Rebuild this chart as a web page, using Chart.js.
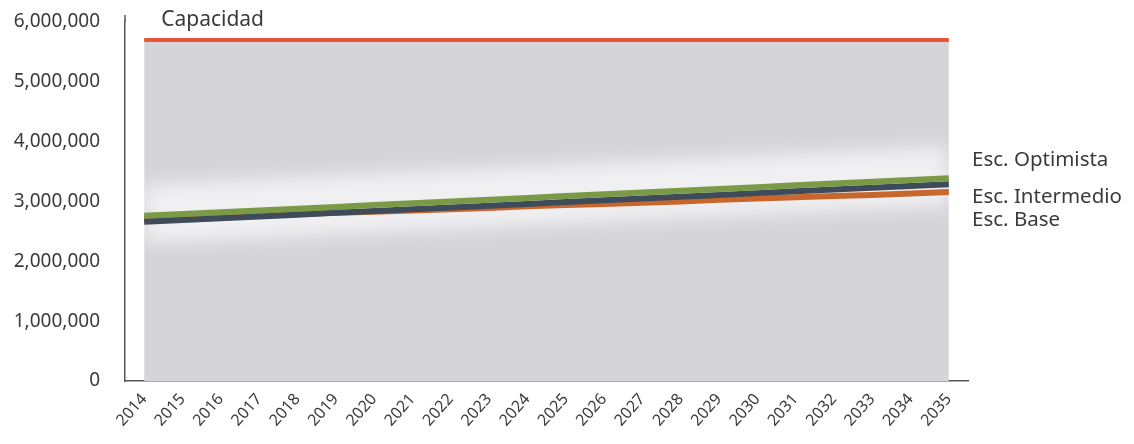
<!DOCTYPE html>
<html>
<head>
<meta charset="utf-8">
<script src="https://cdn.jsdelivr.net/npm/chart.js@4.4.1/dist/chart.umd.min.js"></script>
<style>
  html, body { margin: 0; padding: 0; background: #ffffff; }
  #wrap { width: 1134px; height: 444px; position: relative; }
</style>
</head>
<body>
<div id="wrap"><canvas id="c" width="1134" height="444"></canvas></div>
<script>
// Years on the horizontal axis
const years = ['2014','2015','2016','2017','2018','2019','2020','2021','2022','2023','2024',
               '2025','2026','2027','2028','2029','2030','2031','2032','2033','2034','2035'];

// Demand scenarios
const escOptimista = [2760000, 2790000, 2820000, 2850000, 2880000, 2910000, 2940000, 2970000,
                      3000000, 3030000, 3060000, 3090000, 3120000, 3150000, 3180000, 3210000,
                      3240000, 3270000, 3300000, 3330000, 3360000, 3390000];
const escIntermedio = [2660000, 2690000, 2720000, 2750000, 2780000, 2810000, 2840000, 2870000,
                       2900000, 2930000, 2960000, 2990000, 3020000, 3050000, 3080000, 3110000,
                       3140000, 3170000, 3200000, 3230000, 3260000, 3290000];
const escBase = [2710000, 2730000, 2750000, 2770000, 2790000, 2810000, 2830000, 2850000,
                 2870000, 2890000, 2920000, 2940000, 2960000, 2980000, 3000000, 3030000,
                 3050000, 3070000, 3090000, 3110000, 3135000, 3160000];

// Installed capacity
const capacidad = [5700000, 5700000, 5700000, 5700000, 5700000, 5700000, 5700000, 5700000,
                   5700000, 5700000, 5700000, 5700000, 5700000, 5700000, 5700000, 5700000,
                   5700000, 5700000, 5700000, 5700000, 5700000, 5700000];

// Y axis ticks
const yTicks = [0, 1000000, 2000000, 3000000, 4000000, 5000000, 6000000];

const FONT = '"Noto Sans", "Open Sans", sans-serif';
const TEXT = '#3a3a3a';

// Soft white halo behind the scenario lines, drawn right after the capacity fill
const haloPlugin = {
  id: 'halo',
  afterDatasetDraw(chart, args) {
    if (args.index !== 3) return;
    const meta = chart.getDatasetMeta(1);
    const area = chart.chartArea;
    const ctx = chart.ctx;
    ctx.save();
    ctx.beginPath();
    ctx.rect(area.left, area.top, area.right - area.left, area.bottom - area.top);
    ctx.clip();
    ctx.filter = 'blur(9px)';
    ctx.strokeStyle = 'rgba(255,255,255,0.65)';
    ctx.lineWidth = 60;
    ctx.beginPath();
    meta.data.forEach((p, i) => {
      const y = p.y - 8;
      if (i === 0) ctx.moveTo(p.x, y); else ctx.lineTo(p.x, y);
    });
    ctx.stroke();
    ctx.restore();
  }
};

// Series names written next to the lines
const labelPlugin = {
  id: 'seriesLabels',
  afterDraw(chart) {
    const ctx = chart.ctx;
    const cap = chart.getDatasetMeta(3).data;
    const opt = chart.getDatasetMeta(0).data;
    const mid = chart.getDatasetMeta(1).data;
    const base = chart.getDatasetMeta(2).data;
    const last = opt.length - 1;
    const xr = chart.chartArea.right + 4;
    ctx.save();
    ctx.fillStyle = TEXT;
    ctx.textBaseline = 'middle';
    ctx.textAlign = 'left';
    ctx.font = '21px ' + FONT;
    ctx.fillText('Capacidad', cap[0].x + 17, cap[0].y - 20);
    ctx.font = '20.5px ' + FONT;
    ctx.fillText('Esc. Optimista', xr, opt[last].y - 18);
    ctx.fillText('Esc. Intermedio', xr, mid[last].y + 13);
    ctx.fillText('Esc. Base', xr, base[last].y + 28);
    // y axis line runs a little above the top tick
    ctx.strokeStyle = '#555';
    ctx.lineWidth = 1.5;
    ctx.beginPath();
    ctx.moveTo(chart.chartArea.left, chart.chartArea.top - 7);
    ctx.lineTo(chart.chartArea.left, chart.chartArea.top);
    ctx.stroke();
    ctx.restore();
  }
};

new Chart(document.getElementById('c'), {
  type: 'line',
  data: {
    labels: years,
    datasets: [
      { label: 'Esc. Optimista', data: escOptimista, borderColor: '#7b9a48', borderWidth: 6,
        pointRadius: 0, fill: false, tension: 0 },
      { label: 'Esc. Intermedio', data: escIntermedio, borderColor: '#3d4b5a', borderWidth: 6,
        pointRadius: 0, fill: false, tension: 0 },
      { label: 'Esc. Base', data: escBase, borderColor: '#c9662c', borderWidth: 6,
        pointRadius: 0, fill: false, tension: 0 },
      { label: 'Capacidad', data: capacidad, borderColor: '#e9543b', borderWidth: 4,
        backgroundColor: '#d4d4d9', pointRadius: 0, fill: 'origin', tension: 0 }
    ]
  },
  options: {
    responsive: false,
    animation: false,
    events: [],
    layout: { padding: { top: 22, right: 166, left: 0, bottom: 0 } },
    plugins: { legend: { display: false }, tooltip: { enabled: false } },
    scales: {
      x: {
        type: 'category',
        offset: true,
        grid: { display: false, drawTicks: false },
        border: { display: true, color: '#555', width: 1.5 },
        ticks: {
          color: TEXT, font: { family: FONT, size: 16 },
          minRotation: 48, maxRotation: 48, padding: 9, autoSkip: false
        },
        afterFit(scale) { scale.height = 63; scale.paddingLeft = 0; scale.paddingRight = 0; }
      },
      y: {
        min: 0, max: 6000000,
        grid: { display: false, drawTicks: false },
        border: { display: true, color: '#555', width: 1.5 },
        afterBuildTicks(scale) { scale.ticks = yTicks.map(v => ({ value: v })); },
        ticks: {
          color: TEXT, font: { family: FONT, size: 19 }, padding: 25,
          callback: v => v.toLocaleString('en-US')
        },
        afterFit(scale) { scale.width = 125; scale.paddingTop = 0; scale.paddingBottom = 0; }
      }
    }
  },
  plugins: [haloPlugin, labelPlugin]
});
</script>
</body>
</html>
